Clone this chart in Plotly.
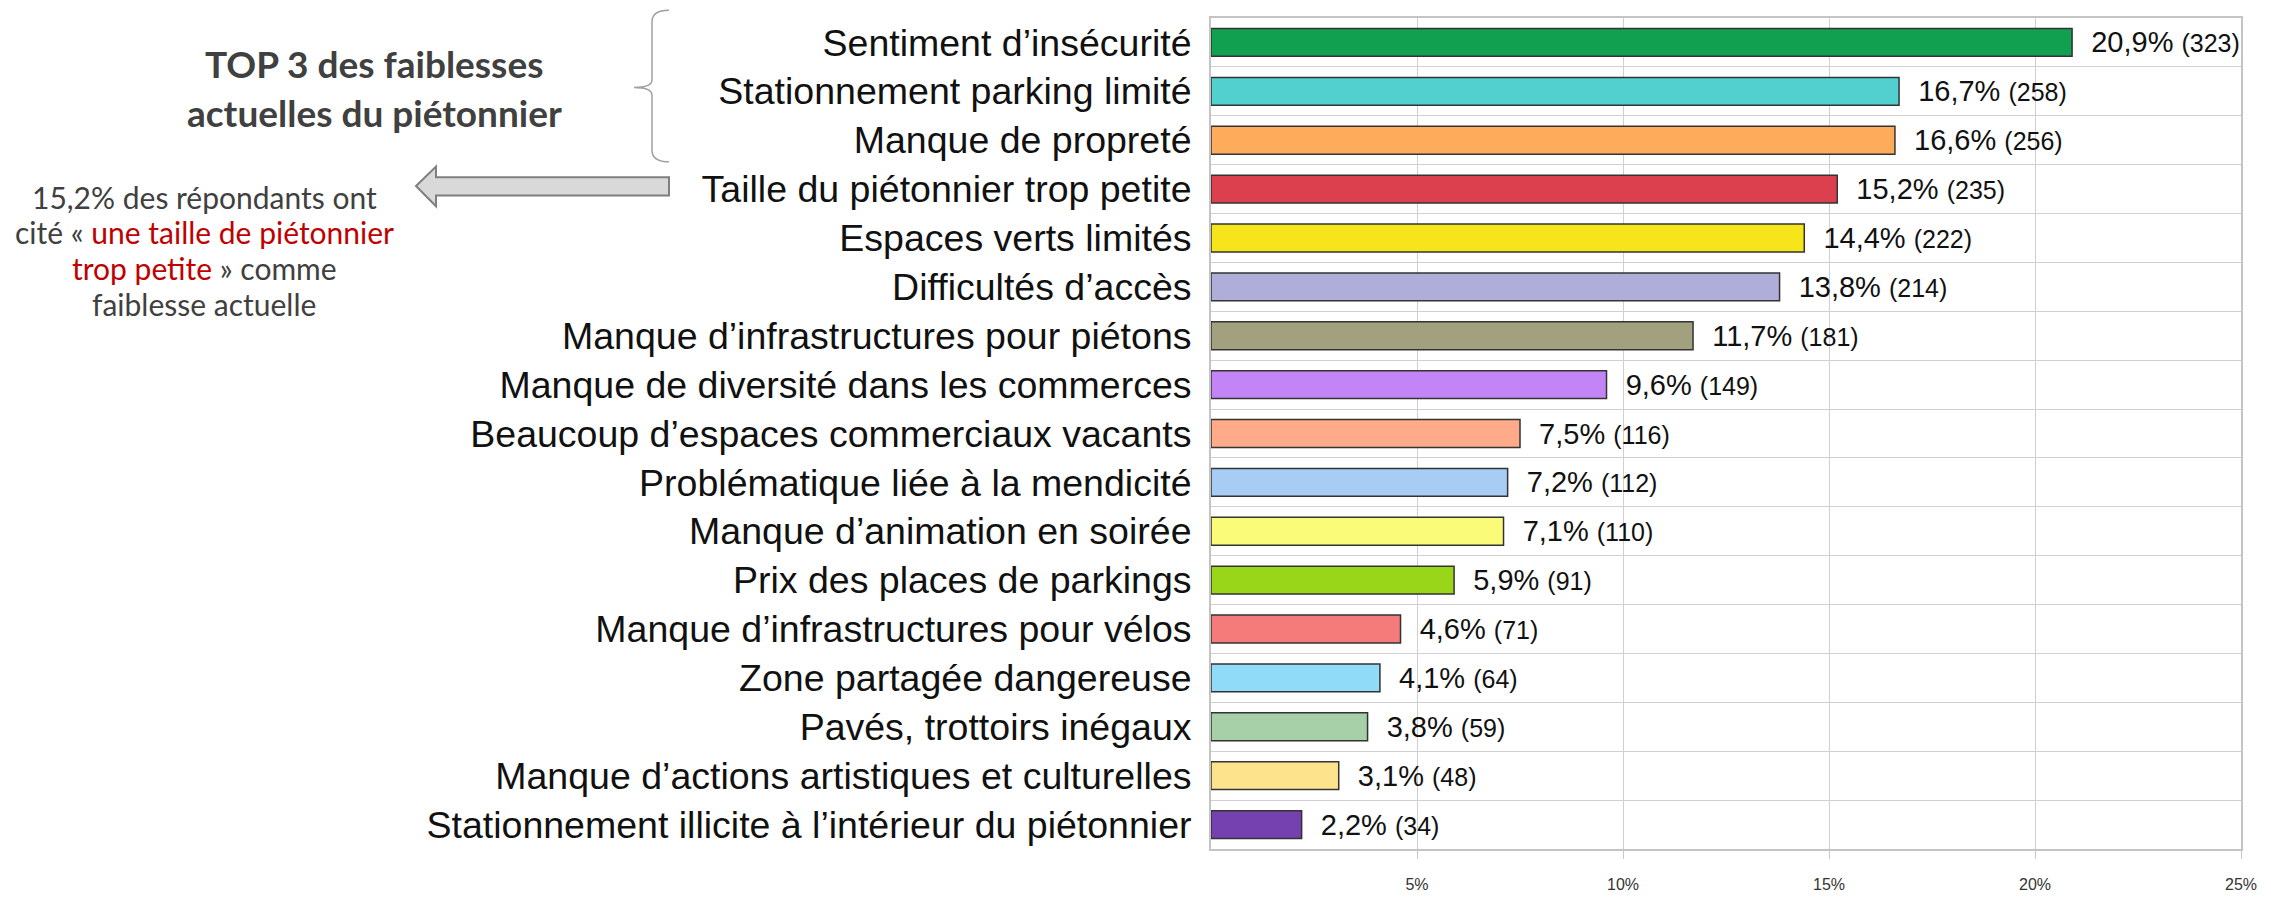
import plotly.graph_objects as go

categories = [
    "Sentiment d’insécurité",
    "Stationnement parking limité",
    "Manque de propreté",
    "Taille du piétonnier trop petite",
    "Espaces verts limités",
    "Difficultés d’accès",
    "Manque d’infrastructures pour piétons",
    "Manque de diversité dans les commerces",
    "Beaucoup d’espaces commerciaux vacants",
    "Problématique liée à la mendicité",
    "Manque d’animation en soirée",
    "Prix des places de parkings",
    "Manque d’infrastructures pour vélos",
    "Zone partagée dangereuse",
    "Pavés, trottoirs inégaux",
    "Manque d’actions artistiques et culturelles",
    "Stationnement illicite à l’intérieur du piétonnier",
]
percentages = [20.9, 16.7, 16.6, 15.2, 14.4, 13.8, 11.7, 9.6, 7.5, 7.2, 7.1, 5.9, 4.6, 4.1, 3.8, 3.1, 2.2]
counts = [323, 258, 256, 235, 222, 214, 181, 149, 116, 112, 110, 91, 71, 64, 59, 48, 34]
bar_colors = [
    "#10a050", "#52d0d0", "#ffab5c", "#dc3f4d", "#f5e51a", "#aeaed8",
    "#a1a17f", "#c385f5", "#ffab8a", "#a8cdf5", "#fbfb7a", "#99d61a",
    "#f57b7b", "#90dcf8", "#a8d0a8", "#fde48c", "#7540b0",
]
x_tick_vals = [5, 10, 15, 20, 25]
x_tick_text = ["5%", "10%", "15%", "20%", "25%"]

# page offset (default body margin of the html page)
OFF = 8
W, H = 2271 - OFF, 901 - OFF
# plot area in screen pixels
L, R, T, B = 1211, 2241, 16, 877


def px(x):
    return (x - L) / (R - L)


def py(y):
    return (B - y) / (B - T)


labels = [
    "\u00a0\u00a0" + f"{p:.1f}%".replace(".", ",")
    + f" <span style='font-size:25px'>({c})</span>"
    for p, c in zip(percentages, counts)
]

fig = go.Figure(
    go.Bar(
        x=percentages,
        y=categories,
        orientation="h",
        marker=dict(color=bar_colors, line=dict(color="#333333", width=1.5)),
        text=labels,
        textposition="outside",
        textfont=dict(family="Liberation Sans, Arial", size=29, color="#111111"),
        constraintext="none",
        cliponaxis=False,
        hoverinfo="skip",
    )
)

fig.update_layout(
    width=W,
    height=H,
    margin=dict(l=L - OFF, r=2271 - R, t=T - OFF, b=901 - B, pad=0),
    paper_bgcolor="white",
    plot_bgcolor="white",
    bargap=0.43,
    showlegend=False,
    font=dict(family="Liberation Sans, Arial", color="#111111"),
)

fig.update_xaxes(
    range=[0, 25],
    tickvals=x_tick_vals,
    ticktext=x_tick_text,
    tickfont=dict(size=16, color="#333333"),
    showgrid=True,
    gridcolor="#d0d0d0",
    gridwidth=1.2,
    showline=True,
    linecolor="#c4c4c4",
    linewidth=2,
    mirror=True,
    ticks="outside",
    ticklen=8,
    tickcolor="#c8c8c8",
    ticklabelstandoff=12,
    zeroline=False,
)

fig.update_yaxes(
    autorange="reversed",
    tickson="boundaries",
    showgrid=True,
    gridcolor="#d0d0d0",
    gridwidth=1.2,
    showline=True,
    linecolor="#c4c4c4",
    linewidth=2,
    mirror=True,
    ticks="",
    ticklabelstandoff=10,
    tickfont=dict(size=37.5, color="#111111", family="Liberation Sans, Arial"),
)

# Left-side commentary
title_font = dict(family="Lato, Open Sans", size=37, color="#404040")
fig.add_annotation(x=px(374), y=py(63), xref="paper", yref="paper", text="<b>TOP 3 des faiblesses</b>",
                   showarrow=False, xanchor="center", yanchor="middle", font=title_font)
fig.add_annotation(x=px(374), y=py(114), xref="paper", yref="paper", text="<b>actuelles du piétonnier</b>",
                   showarrow=False, xanchor="center", yanchor="middle", font=title_font)

body_font = dict(family="Lato, Open Sans", size=30, color="#404040")
body_lines = [
    "15,2% des répondants ont",
    "cité « <span style='color:#c00000'>une taille de piétonnier</span>",
    "<span style='color:#c00000'>trop petite</span> » comme",
    "faiblesse actuelle",
]
for i, line in enumerate(body_lines):
    fig.add_annotation(x=px(204), y=py(201 + 37 * i), xref="paper", yref="paper", text=line,
                       showarrow=False, xanchor="center", yanchor="middle", font=body_font)

# Brace
bx_tip, bx_mid, bx_end = 634, 652, 669
by_top, by_mid, by_bot = 8, 88, 165
pts = lambda x, y: f"{px(x)},{py(y)}"
brace = (
    f"M {pts(bx_end, by_top)} Q {pts(bx_mid, by_top)} {pts(bx_mid, by_top + 12)} "
    f"L {pts(bx_mid, by_mid - 8)} Q {pts(bx_mid, by_mid)} {pts(bx_tip, by_mid)} "
    f"Q {pts(bx_mid, by_mid)} {pts(bx_mid, by_mid + 8)} "
    f"L {pts(bx_mid, by_bot - 12)} Q {pts(bx_mid, by_bot)} {pts(bx_end, by_bot)}"
)
fig.add_shape(type="path", path=brace, xref="paper", yref="paper",
              line=dict(color="#a0a0a0", width=1.5))

# Block arrow
arrow = (
    f"M {pts(416, 190)} L {pts(436, 170)} L {pts(436, 181)} L {pts(669, 181)} "
    f"L {pts(669, 200)} L {pts(436, 200)} L {pts(436, 211)} Z"
)
fig.add_shape(type="path", path=arrow, xref="paper", yref="paper",
              fillcolor="#d9d9d9", line=dict(color="#7f7f7f", width=2))

fig.write_html("out.html")
